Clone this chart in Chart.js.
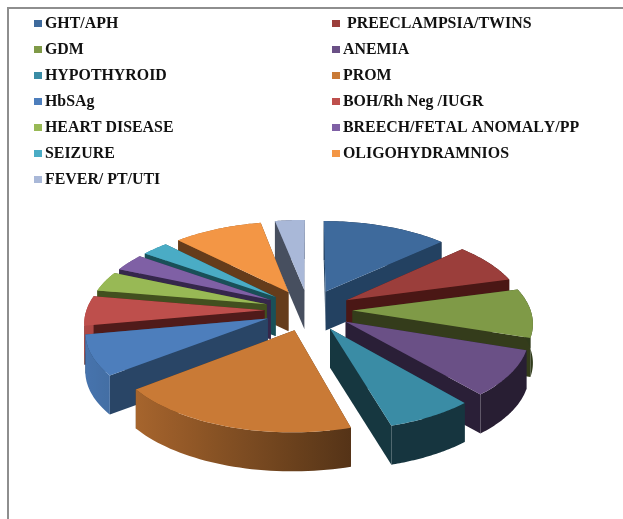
<!DOCTYPE html>
<html>
<head>
<meta charset="utf-8">
<title>Pie</title>
<script src="https://cdn.jsdelivr.net/npm/chart.js@4"></script>
<style>
	html, body { margin: 0; padding: 0; background: #fff; }
	#wrap { position: relative; width: 623px; height: 519px; overflow: hidden; }
	#frame { position: absolute; left: 7px; top: 7px; right: 0; bottom: 0; border-top: 2px solid #8e8e8e; border-left: 2px solid #8e8e8e; }
	#myChart { position: absolute; left: 0; top: 0; }
	#legend { position: absolute; left: 34px; top: 10px; display: grid; grid-template-columns: 298px 285px; grid-auto-rows: 26px; font: bold 15.9px "Liberation Serif", serif; font-kerning: none; color: #111; }
	#legend div { display: flex; align-items: center; white-space: pre; }
	#legend i { width: 8px; height: 7px; margin-right: 3px; flex: none; }
</style>
</head>
<body>
<div id="wrap">
	<div id="frame"></div>
	<canvas id="myChart" width="623" height="519"></canvas>
	<div id="legend"></div>
</div>
<script>
'use strict';

// values, in percent
const labels = ["GHT/APH", " PREECLAMPSIA/TWINS", "GDM", "ANEMIA", "HYPOTHYROID", "PROM", "HbSAg", "BOH/Rh Neg /IUGR", "HEART DISEASE", "BREECH/FETAL ANOMALY/PP", "SEIZURE", "OLIGOHYDRAMNIOS", "FEVER/ PT/UTI"];
const values = [13.1, 7.7, 9.3, 8.6, 6.8, 19.0, 7.6, 5.6, 3.8, 3.3, 2.8, 9.3, 3.1];
const topColors = ["#3e6a9c", "#9b3e3b", "#7f9a47", "#6a5086", "#3a8ca5", "#c97a36", "#4d7ebc", "#be4f4c", "#98b955", "#7f60a5", "#4aacc5", "#f39645", "#a9b8d8"];
const wallColors = ["#234161", "#4a1715", "#343c1b", "#2a1f37", "#163740", "#5a3719", "#294566", "#501b1a", "#42501f", "#35274b", "#195058", "#653c1b", "#474f5f"];

// look of the tilted pie
const tilt = 0.47;
const perspective = 0.000707;
const depth = 39;

function project(el, px, py, z) {
	var s = 1 / (1 - perspective * py);
	return { x: el.x + px * s, y: el.y + tilt * py * s + z };
}

function shade(hex, f) {
	var n = parseInt(hex.slice(1), 16);
	return "rgb(" + Math.round((n >> 16) * f) + "," + Math.round(((n >> 8) & 255) * f) + "," + Math.round((n & 255) * f) + ")";
}

// outer wall gets lighter to the left
function lightAt(x) {
	var f = 0.92 - (x - 85) * 0.5 / 267;
	return Math.max(0.38, Math.min(0.92, f));
}

function fillPath(ctx, pts, style) {
	ctx.beginPath();
	pts.forEach(function (p, i) {
		if (i === 0) { ctx.moveTo(p.x, p.y); } else { ctx.lineTo(p.x, p.y); }
	});
	ctx.closePath();
	ctx.fillStyle = style;
	ctx.fill();
}

function drawSlice(ctx, el, i) {
	var mid = (el.startAngle + el.endAngle) / 2;
	var ox = el.options.offset * Math.cos(mid);
	var oy = el.options.offset * Math.sin(mid);
	var r = el.outerRadius;
	var rim = [], rimLow = [];
	var steps = 40;
	for (var n = 0; n <= steps; n++) {
		var a = el.startAngle + (el.endAngle - el.startAngle) * n / steps;
		rim.push(project(el, ox + r * Math.cos(a), oy + r * Math.sin(a), 0));
		rimLow.push(project(el, ox + r * Math.cos(a), oy + r * Math.sin(a), depth));
	}
	var apex = project(el, ox, oy, 0);
	var apexLow = project(el, ox, oy, depth);

	// outer wall
	var xs = rim.map(function (p) { return p.x; });
	var x0 = Math.min.apply(null, xs), x1 = Math.max.apply(null, xs);
	var grad = ctx.createLinearGradient(x0, 0, x1 + 0.01, 0);
	for (var g = 0; g <= 8; g++) {
		grad.addColorStop(g / 8, shade(topColors[i], lightAt(x0 + (x1 - x0) * g / 8)));
	}
	var outer = rim.concat(rimLow.slice().reverse());

	// the two cut walls, the farther one first
	var wallA = [apex, rim[0], rimLow[0], apexLow];
	var wallB = [apex, rim[steps], rimLow[steps], apexLow];
	var cuts = rim[0].y < rim[steps].y ? [wallA, wallB] : [wallB, wallA];

	var front = Math.sin(mid) > 0;
	if (!front) { fillPath(ctx, outer, grad); }
	cuts.forEach(function (w) { fillPath(ctx, w, wallColors[i]); });
	if (front) { fillPath(ctx, outer, grad); }

	fillPath(ctx, [apex].concat(rim), topColors[i]);
}

const pie3d = {
	id: 'pie3d',
	beforeDatasetsDraw: function (chart) {
		var arcs = chart.getDatasetMeta(0).data;
		var ctx = chart.ctx;
		// back slices first
		var order = arcs.map(function (el, i) { return i; });
		function depthOf(i) {
			var el = arcs[i];
			var mid = (el.startAngle + el.endAngle) / 2;
			return Math.sin(mid) * (el.options.offset + el.outerRadius * 0.6);
		}
		order.sort(function (a, b) { return depthOf(a) - depthOf(b); });
		order.forEach(function (i) { drawSlice(ctx, arcs[i], i); });
		return false; // replaces the flat drawing
	}
};

var myChart = new Chart(document.getElementById("myChart"), {
	type: 'pie',
	data: {
		labels: labels,
		datasets: [{
			data: values,
			backgroundColor: topColors,
			borderWidth: 0,
			offset: 44
		}]
	},
	options: {
		responsive: false,
		animation: false,
		events: [],
		layout: { padding: { left: 108, right: 114, top: 110, bottom: 9 } },
		plugins: {
			legend: { display: false },
			tooltip: { enabled: false }
		}
	},
	plugins: [pie3d]
});

// legend goes row by row, so it is built in html
var legendBox = document.getElementById("legend");
myChart.options.plugins.legend.labels.generateLabels(myChart).forEach(function (item) {
	var row = document.createElement("div");
	var box = document.createElement("i");
	box.style.background = item.fillStyle;
	row.appendChild(box);
	row.appendChild(document.createTextNode(item.text));
	legendBox.appendChild(row);
});
</script>
</body>
</html>
